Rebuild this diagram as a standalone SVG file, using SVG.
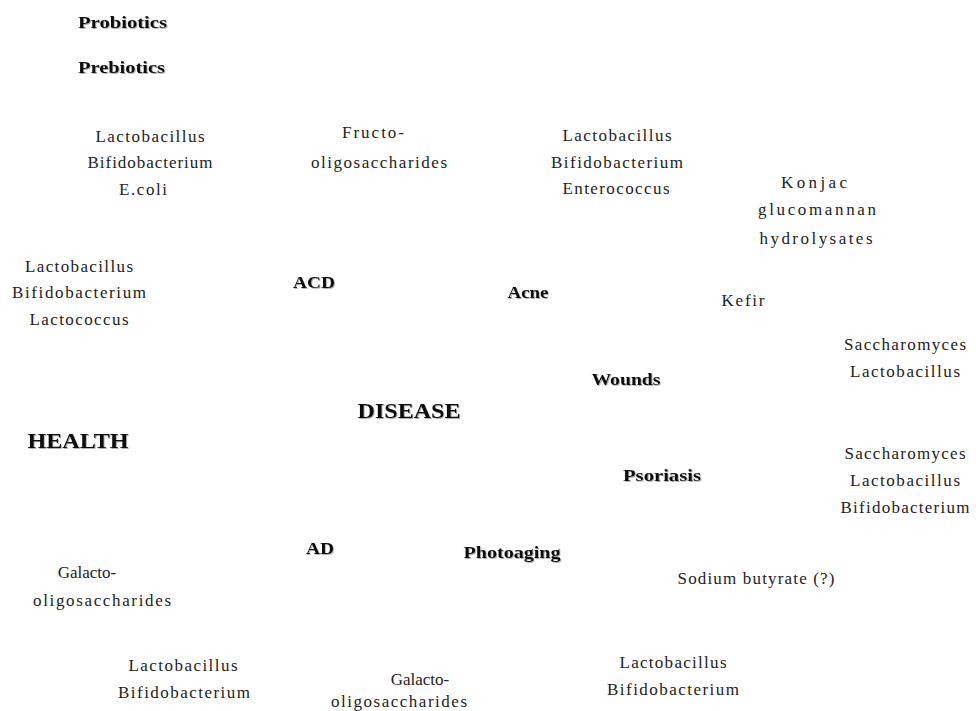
<svg xmlns="http://www.w3.org/2000/svg" width="976" height="711" viewBox="0 0 976 711">
<defs>
<filter id="sh" x="-10%" y="-30%" width="130%" height="170%">
<feDropShadow dx="1" dy="1" stdDeviation="0.7" flood-color="#000" flood-opacity="0.3"/>
</filter>
</defs>
<style>
.b{font-family:"Liberation Serif","DejaVu Serif",serif;font-weight:bold;font-size:17px;fill:#111;filter:url(#sh)}
.big{font-size:22px}
.r{font-family:"Liberation Serif","DejaVu Serif",serif;font-size:17px;fill:#222;text-anchor:middle}
.m{text-anchor:middle}
</style>
<rect width="976" height="711" fill="#fff"/>
<g id="legend">
<text class="b" x="78" y="28" textLength="89" lengthAdjust="spacingAndGlyphs">Probiotics</text>
<text class="b" x="78" y="73" textLength="87" lengthAdjust="spacingAndGlyphs">Prebiotics</text>
</g>
<g id="health"><text class="b big m" x="78" y="448" textLength="101" lengthAdjust="spacingAndGlyphs">HEALTH</text></g>
<g id="disease"><text class="b big m" x="409" y="418" textLength="103" lengthAdjust="spacingAndGlyphs">DISEASE</text></g>
<g id="acd"><text class="b m" x="314" y="288" textLength="42" lengthAdjust="spacingAndGlyphs">ACD</text></g>
<g id="acne"><text class="b m" x="528" y="298" textLength="41" lengthAdjust="spacingAndGlyphs">Acne</text></g>
<g id="wounds"><text class="b m" x="626" y="385" textLength="69" lengthAdjust="spacingAndGlyphs">Wounds</text></g>
<g id="psoriasis"><text class="b m" x="662" y="481" textLength="78" lengthAdjust="spacingAndGlyphs">Psoriasis</text></g>
<g id="ad"><text class="b m" x="320" y="554" textLength="28" lengthAdjust="spacingAndGlyphs">AD</text></g>
<g id="photoaging"><text class="b m" x="512" y="558" textLength="97" lengthAdjust="spacingAndGlyphs">Photoaging</text></g>

<g id="acd-pro">
<text class="r" x="150" y="142" textLength="109" lengthAdjust="spacing">Lactobacillus</text>
<text class="r" x="150" y="168" textLength="125" lengthAdjust="spacing">Bifidobacterium</text>
<text class="r" x="143" y="195" textLength="48" lengthAdjust="spacing">E.coli</text>
</g>
<g id="acd-pre">
<text class="r" x="373" y="138" textLength="62" lengthAdjust="spacing">Fructo-</text>
<text class="r" x="379" y="168" textLength="136" lengthAdjust="spacing">oligosaccharides</text>
</g>
<g id="acne-pro">
<text class="r" x="617" y="141" textLength="109" lengthAdjust="spacing">Lactobacillus</text>
<text class="r" x="617" y="168" textLength="132" lengthAdjust="spacing">Bifidobacterium</text>
<text class="r" x="616" y="194" textLength="107" lengthAdjust="spacing">Enterococcus</text>
</g>
<g id="acne-pre">
<text class="r" x="814" y="188" textLength="66" lengthAdjust="spacing">Konjac</text>
<text class="r" x="817" y="215" textLength="118" lengthAdjust="spacing">glucomannan</text>
<text class="r" x="816" y="244" textLength="113" lengthAdjust="spacing">hydrolysates</text>
</g>
<g id="health-pro">
<text class="r" x="79" y="272" textLength="108" lengthAdjust="spacing">Lactobacillus</text>
<text class="r" x="79" y="298" textLength="134" lengthAdjust="spacing">Bifidobacterium</text>
<text class="r" x="79" y="325" textLength="99" lengthAdjust="spacing">Lactococcus</text>
</g>
<g id="wounds-kefir"><text class="r" x="743" y="306" textLength="43" lengthAdjust="spacing">Kefir</text></g>
<g id="wounds-pro">
<text class="r" x="905" y="350" textLength="122" lengthAdjust="spacing">Saccharomyces</text>
<text class="r" x="905" y="377" textLength="110" lengthAdjust="spacing">Lactobacillus</text>
</g>
<g id="psoriasis-pro">
<text class="r" x="905" y="459" textLength="121" lengthAdjust="spacing">Saccharomyces</text>
<text class="r" x="905" y="486" textLength="110" lengthAdjust="spacing">Lactobacillus</text>
<text class="r" x="905" y="513" textLength="129" lengthAdjust="spacing">Bifidobacterium</text>
</g>
<g id="photo-pre"><text class="r" x="756" y="584" textLength="157" lengthAdjust="spacing">Sodium butyrate (?)</text></g>
<g id="ad-pre">
<text class="r" x="87" y="578">Galacto-</text>
<text class="r" x="102" y="606" textLength="138" lengthAdjust="spacing">oligosaccharides</text>
</g>
<g id="ad-pro">
<text class="r" x="183" y="671" textLength="109" lengthAdjust="spacing">Lactobacillus</text>
<text class="r" x="184" y="698" textLength="132" lengthAdjust="spacing">Bifidobacterium</text>
</g>
<g id="photo-pre2">
<text class="r" x="420" y="685">Galacto-</text>
<text class="r" x="399" y="707" textLength="136" lengthAdjust="spacing">oligosaccharides</text>
</g>
<g id="photo-pro">
<text class="r" x="673" y="668" textLength="107" lengthAdjust="spacing">Lactobacillus</text>
<text class="r" x="673" y="695" textLength="132" lengthAdjust="spacing">Bifidobacterium</text>
</g>
<g id="connectors"></g>
</svg>
